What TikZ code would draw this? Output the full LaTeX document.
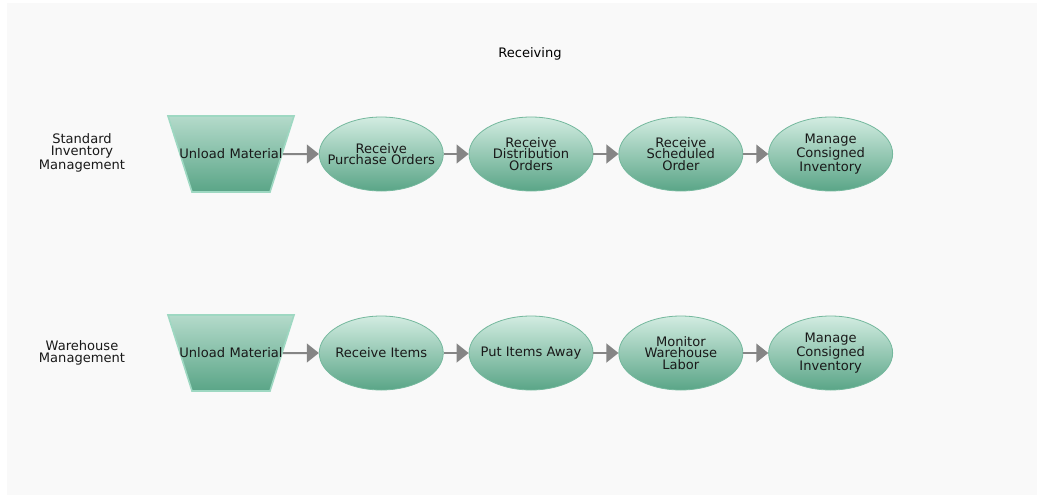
\documentclass[tikz,border=0pt]{standalone}
\usepackage{fontspec}
\setmainfont{DejaVu Sans}
\usetikzlibrary{arrows.meta,positioning,shapes.geometric}
\definecolor{bgfill}{HTML}{F9F9F9}
\definecolor{greenlite}{HTML}{D2ECE1}
\definecolor{greendark}{HTML}{5AA587}
\definecolor{greenline}{HTML}{74B89D}
\definecolor{trapline}{HTML}{9ED8C2}
\definecolor{arrgray}{HTML}{858585}

\begin{document}
\begin{tikzpicture}[
  x=0.75pt, y=-0.75pt,
  node distance=5mm and 18.75pt,
  font=\fontsize{9.8}{8.4}\selectfont,
  proc/.style={ellipse, draw=greenline, line width=0.6pt, top color=greenlite,
               bottom color=greendark, minimum width=93pt, minimum height=55.5pt,
               inner xsep=-14pt, inner ysep=0pt, align=center, text=black!90},
  unload/.style={trapezium, shape border rotate=180, trapezium angle=72.47,
                 text width=58.5pt, text height=31.5pt, text depth=25.5pt,
                 align=center, draw=trapline, line width=1.2pt,
                 top color=greenlite!75!greendark, bottom color=greendark,
                 inner sep=0pt, text=black!90},
  lane/.style={align=center, text=black!90, font=\fontsize{9.8}{9}\selectfont},
  arr/.style={-{Triangle[length=9pt, width=14pt]}, draw=arrgray, fill=arrgray, line width=1.5pt}
]
\useasboundingbox[fill=white] (0,0) rectangle (1037,499);
\fill[bgfill] (7,3) rectangle (1037,495);
\node[text=black] (title) at (530,54) {Receiving};

% standard inventory management
\node[lane] (stdlane) at (82,153) {Standard\\Inventory\\Management};
\node[unload] (stdunload) at (231,154) {\makebox[0pt]{Unload Material}};
\node[proc, right=27pt of stdunload] (recpo) {Receive\\Purchase Orders};
\node[proc, right=of recpo] (recdo) {Receive\\Distribution\\Orders};
\node[proc, right=of recdo] (recso) {Receive\\Scheduled\\Order};
\node[proc, right=of recso] (stdconsign) {Manage\\Consigned\\Inventory};
\draw[arr] (stdunload) -- (recpo);
\draw[arr] (recpo) -- (recdo);
\draw[arr] (recdo) -- (recso);
\draw[arr] (recso) -- (stdconsign);

% warehouse management
\node[lane] (whlane) at (82,353) {Warehouse\\Management};
\node[unload] (whunload) at (231,353) {\makebox[0pt]{Unload Material}};
\node[proc, right=27pt of whunload] (recitems) {Receive Items};
\node[proc, right=of recitems] (putaway) {Put Items Away};
\node[proc, right=of putaway] (monlabor) {Monitor\\Warehouse\\Labor};
\node[proc, right=of monlabor] (whconsign) {Manage\\Consigned\\Inventory};
\draw[arr] (whunload) -- (recitems);
\draw[arr] (recitems) -- (putaway);
\draw[arr] (putaway) -- (monlabor);
\draw[arr] (monlabor) -- (whconsign);
\end{tikzpicture}
\end{document}
